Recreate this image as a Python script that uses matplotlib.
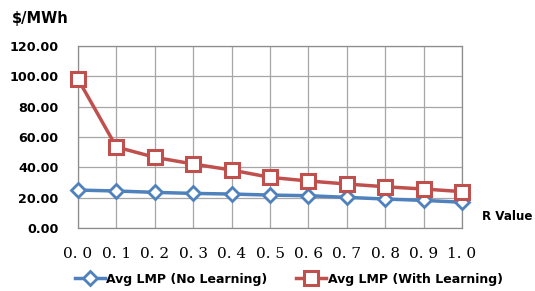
import matplotlib.pyplot as plt
import numpy as np

r_values = [0.0, 0.1, 0.2, 0.3, 0.4, 0.5, 0.6, 0.7, 0.8, 0.9, 1.0]
r_labels = ['0. 0', '0. 1', '0. 2', '0. 3', '0. 4', '0. 5', '0. 6', '0. 7', '0. 8', '0. 9', '1. 0']
lmp_no_learning = [25.0, 24.4, 23.5, 22.8, 22.4, 21.7, 21.3, 20.2, 19.1, 18.2, 17.0]
lmp_with_learning = [98.2, 53.4, 46.6, 42.2, 38.2, 33.4, 31.0, 29.0, 27.2, 25.7, 24.0]
y_ticks = [0, 20, 40, 60, 80, 100, 120]

blue = '#4F81BD'
red = '#C0504D'

fig = plt.figure(figsize=(5.35, 2.91), dpi=100)
ax = fig.add_axes([78 / 535, 63 / 291, 384 / 535, 182 / 291])

ax.plot(r_values, lmp_no_learning, color=blue, lw=2.5, marker='D', ms=7,
        mfc='white', mec=blue, mew=2.0, label='Avg LMP (No Learning)', zorder=3,
        clip_on=False)
ax.plot(r_values, lmp_with_learning, color=red, lw=2.5, marker='s', ms=9.5,
        mfc='white', mec=red, mew=2.2, label='Avg LMP (With Learning)', zorder=3,
        clip_on=False)

ax.set_xlim(0, 1)
ax.set_ylim(0, 120)
ax.set_xticks(r_values)
ax.set_xticklabels(r_labels, family='DejaVu Serif', fontsize=11)
ax.set_yticks(y_ticks)
ax.set_yticklabels([f'{v:.2f}' for v in y_ticks], fontweight='bold', fontsize=9.2,
                   family='DejaVu Sans')
ax.tick_params(length=0)
ax.tick_params(axis='y', pad=14)
ax.tick_params(axis='x', pad=14)
ax.grid(True, color='#a6a6a6', lw=0.9)
for s in ax.spines.values():
    s.set_color('#8c8c8c')
    s.set_linewidth(0.9)

fig.text(12 / 535, 1 - 18 / 291, '$/MWh', fontweight='bold', fontsize=10.5,
         family='DejaVu Sans', va='center', ha='left')
fig.text(482 / 535, 1 - 216 / 291, 'R Value', fontweight='bold', fontsize=8.6,
         family='DejaVu Sans', va='center', ha='left')

fig.legend(loc='center', bbox_to_anchor=(0.54, 1 - 279 / 291), ncol=2, frameon=False,
           prop={'family': 'DejaVu Sans', 'weight': 'bold', 'size': 9},
           handlelength=2.4, columnspacing=2.3, handletextpad=0.15)

fig.savefig('out.png', dpi=100)
